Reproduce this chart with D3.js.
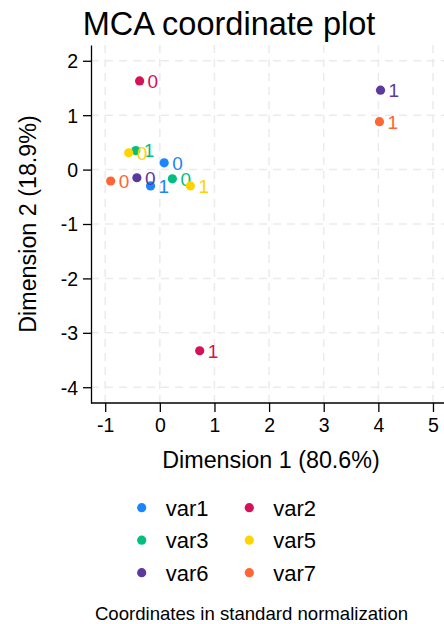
<!DOCTYPE html>
<html>
<head>
<meta charset="utf-8">
<script src="https://cdn.jsdelivr.net/npm/d3@7"></script>
<style>
  body { margin: 0; background: #fff; }
  svg { font-family: "Liberation Sans", Arial, sans-serif; }
</style>
</head>
<body>
<svg id="chart" width="444" height="624"></svg>
<script>
// series (variables) and their colors
const variables = ['var1', 'var2', 'var3', 'var5', 'var6', 'var7']
const colors = ['#1a85ff', '#d41159', '#00bf7f', '#ffd400', '#5a3a9c', '#ff6633']

// category coordinates, one pair per variable: [level 0, level 1]
const levels = ['0', '1']
const dim1 = [
    [0.08, -0.17],
    [-0.37, 0.73],
    [0.23, -0.44],
    [-0.57, 0.56],
    [-0.42, 4.04],
    [-0.90, 4.02]
]
const dim2 = [
    [0.125, -0.30],
    [1.63, -3.33],
    [-0.17, 0.35],
    [0.31, -0.30],
    [-0.15, 1.46],
    [-0.21, 0.88]
]

const xTicks = [-1, 0, 1, 2, 3, 4, 5]
const yTicks = [-4, -3, -2, -1, 0, 1, 2]

const svg = d3.select('#chart')

const x = d3.scaleLinear().domain([-1.26, 5.33]).range([91, 451])
const y = d3.scaleLinear().domain([-4.29, 2.29]).range([403, 45])

// gridlines
const grid = svg.append('g').attr('class', 'grid')
grid.selectAll('.hgrid').data(yTicks).enter().append('line')
    .attr('x1', x.range()[0]).attr('x2', x.range()[1])
    .attr('y1', d => y(d)).attr('y2', d => y(d))
grid.selectAll('.vgrid').data(xTicks).enter().append('line')
    .attr('x1', d => x(d)).attr('x2', d => x(d))
    .attr('y1', y.range()[0]).attr('y2', y.range()[1])
grid.selectAll('line')
    .style('stroke', '#ebebeb')
    .style('stroke-width', 1.5)
    .style('stroke-dasharray', '8,6')

// axes, plain hyphen labels like the original
const fmt = d => String(d)
const xAxis = svg.append('g')
    .attr('transform', `translate(0,${y.range()[0]})`)
    .call(d3.axisBottom(x).tickValues(xTicks).tickFormat(fmt).tickSize(9).tickPadding(6).tickSizeOuter(0))
xAxis.select('.domain').attr('d', `M${x.range()[0]},0H${x.range()[1]}`)

const yAxis = svg.append('g')
    .attr('transform', `translate(${x.range()[0]},0)`)
    .call(d3.axisLeft(y).tickValues(yTicks).tickFormat(fmt).tickSize(8).tickPadding(5).tickSizeOuter(0))

svg.selectAll('.tick text').style('font-size', '19.5px').attr('fill', '#000')
svg.selectAll('.domain, .tick line').style('stroke', '#000').style('stroke-width', 1.3)
yAxis.selectAll('.tick text').attr('dy', '0.35em')

// points
const points = []
variables.forEach((v, i) => {
    levels.forEach((lv, j) => {
        points.push({ v: v, color: colors[i], label: lv, x: dim1[i][j], y: dim2[i][j] })
    })
})

const pts = svg.append('g').selectAll('.pt').data(points).enter().append('g')
    .attr('transform', d => `translate(${x(d.x)},${y(d.y)})`)
pts.append('circle')
    .attr('r', 4.6)
    .attr('fill', d => d.color)
pts.append('text')
    .attr('x', 8)
    .attr('dy', '0.36em')
    .style('font-size', '19px')
    .attr('fill', d => d.color)
    .text(d => d.label)

// titles
svg.append('text')
    .attr('x', 229).attr('y', 35)
    .attr('text-anchor', 'middle')
    .style('font-size', '32.5px')
    .text('MCA coordinate plot')

svg.append('text')
    .attr('x', 271).attr('y', 468)
    .attr('text-anchor', 'middle')
    .style('font-size', '23.3px')
    .text('Dimension 1 (80.6%)')

svg.append('text')
    .attr('transform', `translate(36,${(y.range()[0] + y.range()[1]) / 2}) rotate(-90)`)
    .attr('text-anchor', 'middle')
    .style('font-size', '23.3px')
    .text('Dimension 2 (18.9%)')

// legend, two columns
const legend = svg.append('g').selectAll('.leg').data(variables).enter().append('g')
    .attr('transform', (d, i) => `translate(${141.7 + (i % 2) * 107.6},${507.7 + Math.floor(i / 2) * 32.5})`)
legend.append('circle')
    .attr('r', 4.6)
    .attr('fill', (d, i) => colors[i])
legend.append('text')
    .attr('x', 24)
    .attr('dy', '0.36em')
    .style('font-size', '22px')
    .text(d => d)

svg.append('text')
    .attr('x', 251.5).attr('y', 620)
    .attr('text-anchor', 'middle')
    .style('font-size', '18.6px')
    .text('Coordinates in standard normalization')
</script>
</body>
</html>
